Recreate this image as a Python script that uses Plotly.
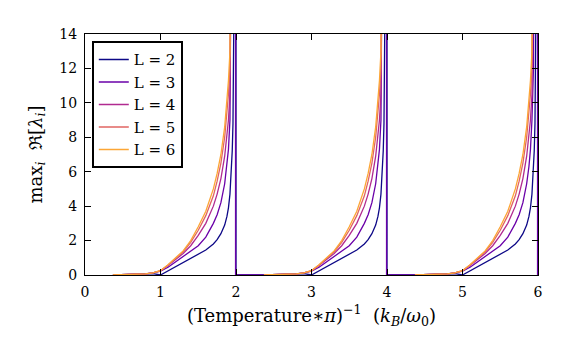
import plotly.graph_objects as go

# relative position inside each period (period length 2)
U = [0.37, 0.5, 0.6, 0.7, 0.8, 0.9, 1.0, 1.1, 1.2, 1.3, 1.4, 1.5, 1.6, 1.7, 1.75,
     1.8, 1.85, 1.88, 1.9, 1.92, 1.94, 1.95, 1.96, 1.97, 1.98, 1.99]
PERIOD_STARTS = [0, 2, 4]
L_VALUES = [2, 3, 4, 5, 6]

Y_L2 = [0, 0.01, 0.02, 0.03, 0.05, 0.08, 0.0, 0.25, 0.5, 0.72, 0.95, 1.2, 1.45, 1.8, 2.05,
        2.4, 2.9, 3.4, 3.9, 4.7, 6.0, 7.2, 8.8, 11.5, 15.5, 25]
Y_L3 = [0, 0.01, 0.02, 0.04, 0.07, 0.12, 0.22, 0.45, 0.75, 1.05, 1.35, 1.7, 2.2, 3.0, 3.5,
        4.2, 5.3, 6.3, 7.3, 9.0, 12.0, 14.5, 18, 25, 35, 60]
Y_L4 = [0, 0.01, 0.02, 0.04, 0.07, 0.12, 0.24, 0.55, 0.9, 1.25, 1.7, 2.3, 3.0, 4.0, 4.7,
        5.6, 6.9, 8.0, 9.0, 10.5, 13.0, 14.5, 17, 22, 30, 50]
Y_L5 = [0, 0.01, 0.02, 0.04, 0.07, 0.12, 0.25, 0.58, 0.97, 1.35, 1.9, 2.6, 3.45, 4.6, 5.45,
        6.5, 8.0, 9.3, 10.5, 12.0, 14.5, 16, 19, 24, 33, 55]
Y_L6 = [0, 0.01, 0.02, 0.04, 0.07, 0.12, 0.25, 0.6, 1.0, 1.4, 2.0, 2.8, 3.7, 5.0, 5.9,
        7.0, 8.6, 10.0, 11.3, 13.0, 15.5, 17, 20, 25, 35, 60]
# where the curve falls back to zero (None = no drawn drop)
DROP_AT = {2: (2.0, 50), 3: (1.994, 100), 4: None, 5: None, 6: None}

COLORS = ["#0d0887", "#6a00a8", "#b12a90", "#e16462", "#fca636"]
SERIES = [Y_L2, Y_L3, Y_L4, Y_L5, Y_L6]

fig = go.Figure()
for L, ys, col in zip(L_VALUES, SERIES, COLORS):
    xs, yv = [], []
    for p in PERIOD_STARTS:
        xs += [p + u for u in U]
        yv += list(ys)
        d = DROP_AT[L]
        if d is not None:
            xs += [p + d[0], p + d[0]]
            yv += [d[1], 0]
        else:
            xs.append(None)
            yv.append(None)
    fig.add_trace(go.Scatter(x=xs, y=yv, mode="lines", name=f"L = {L}",
                             line=dict(color=col, width=1.3), connectgaps=False))

font = "DejaVu Serif, Liberation Serif, serif"
fig.update_layout(
    width=570, height=345,
    margin=dict(l=85, r=32, t=34, b=70),
    paper_bgcolor="white", plot_bgcolor="white",
    font=dict(family=font, size=14, color="black"),
    showlegend=True,
    legend=dict(x=0.015, y=0.97, xanchor="left", yanchor="top",
                bgcolor="white", bordercolor="black", borderwidth=2,
                font=dict(family=font, size=15), itemwidth=30,
                tracegroupgap=0),
    xaxis=dict(range=[0, 6], tickmode="linear", tick0=0, dtick=1,
               ticks="inside", ticklen=6, tickcolor="black", mirror="allticks",
               showline=True, linecolor="black", linewidth=1, showgrid=False,
               zeroline=False, tickfont=dict(family=font, size=14),
               ticklabelstandoff=4,
               title=dict(text="(Temperature∗<i>π</i>)<sup>−1</sup>  (<i>k</i><sub><i>B</i></sub>/<i>ω</i><sub>0</sub>)",
                          font=dict(family=font, size=18), standoff=10)),
    yaxis=dict(range=[0, 14], tickmode="linear", tick0=0, dtick=2,
               ticks="inside", ticklen=6, tickcolor="black", mirror="allticks",
               showline=True, linecolor="black", linewidth=1, showgrid=False,
               zeroline=False, tickfont=dict(family=font, size=14),
               ticklabelstandoff=4,
               title=dict(text="max<sub><i>i</i></sub>  ℜ[<i>λ</i><sub><i>i</i></sub>]",
                          font=dict(family=font, size=18), standoff=12)),
)
fig.write_html("out.html")
